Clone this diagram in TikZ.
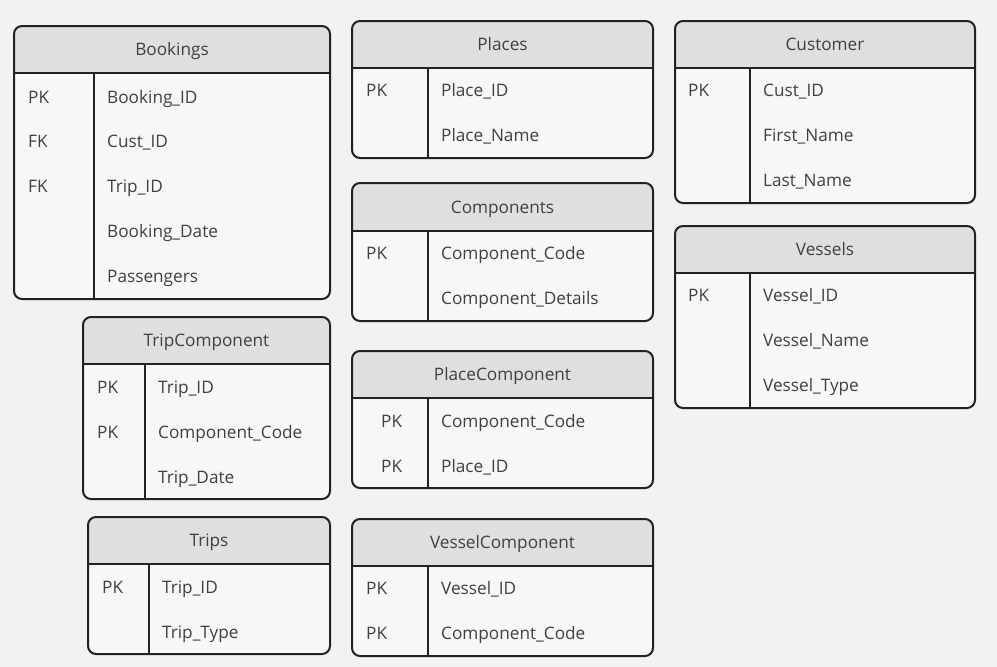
\documentclass[tikz,border=0pt]{standalone}
\usepackage{fontspec}
\setmainfont{Open Sans}
\usetikzlibrary{fit}
\definecolor{bgc}{HTML}{F2F2F2}
\definecolor{headc}{HTML}{DFDFDF}
\definecolor{bodyc}{HTML}{F7F7F7}
\definecolor{linec}{HTML}{222222}
\definecolor{txtc}{HTML}{404040}
\tikzset{
  tbl/.style={draw=linec, line width=2pt, rounded corners=8pt, inner sep=0pt},
  edge/.style={draw=linec, line width=2pt},
  ttl/.style={anchor=base, text=txtc, inner sep=0pt, font=\fontsize{17.2}{20}\selectfont},
  fld/.style={anchor=base west, text=txtc, inner sep=0pt, font=\fontsize{17.2}{20}\selectfont},
}
\newcommand\ertab[8]{%
  \fill[bodyc, rounded corners=8pt] (#2,#3) rectangle (#4,#5);
  \begin{scope}\clip (#2,#3) rectangle (#4,#6);
    \fill[headc, rounded corners=8pt] (#2,#3) rectangle (#4,#5);
  \end{scope}
  \node[tbl, fit={(#2,#3) (#4,#5)}] (#1) {};
  \draw[edge] (#2,#6) -- (#4,#6);
  \draw[edge] (#7,#6) -- (#7,#5);
  \node[ttl] (#1-title) at ({(#2+#4)/2},{(#3+#6)/2+6}) {#8};
}
\newcommand\erfield[4]{\node[fld] (#1) at (#2,{#3+6}) {#4};}
\begin{document}
\begin{tikzpicture}[x=1pt,y=-1pt]
\fill[bgc] (0,0) rectangle (997,667);
\useasboundingbox (0,0) rectangle (997,667);

% Bookings
\ertab{bk}{14}{26}{330}{299}{73}{94}{Bookings}
\erfield{bk-k1}{28}{97}{PK}
\erfield{bk-k2}{28}{141}{FK}
\erfield{bk-k3}{28}{186}{FK}
\erfield{bk-f1}{107}{97}{Booking\_ID}
\erfield{bk-f2}{107}{141}{Cust\_ID}
\erfield{bk-f3}{107}{186}{Trip\_ID}
\erfield{bk-f4}{107}{231}{Booking\_Date}
\erfield{bk-f5}{107}{276}{Passengers}

% Places
\ertab{pl}{352}{21}{653}{158}{68}{428}{Places}
\erfield{pl-k1}{366}{90}{PK}
\erfield{pl-f1}{441}{90}{Place\_ID}
\erfield{pl-f2}{441}{135}{Place\_Name}

% Components
\ertab{co}{352}{183}{653}{321}{231}{428}{Components}
\erfield{co-k1}{366}{253}{PK}
\erfield{co-f1}{441}{253}{Component\_Code}
\erfield{co-f2}{441}{298}{Component\_Details}

% Customer
\ertab{cu}{675}{21}{975}{203}{68}{750}{Customer}
\erfield{cu-k1}{688}{90}{PK}
\erfield{cu-f1}{763}{90}{Cust\_ID}
\erfield{cu-f2}{763}{135}{First\_Name}
\erfield{cu-f3}{763}{180}{Last\_Name}

% Vessels
\ertab{ve}{675}{226}{975}{408}{273}{750}{Vessels}
\erfield{ve-k1}{688}{295}{PK}
\erfield{ve-f1}{763}{295}{Vessel\_ID}
\erfield{ve-f2}{763}{340}{Vessel\_Name}
\erfield{ve-f3}{763}{385}{Vessel\_Type}

% TripComponent
\ertab{tc}{83}{317}{330}{499}{364}{145}{TripComponent}
\erfield{tc-k1}{97}{387}{PK}
\erfield{tc-k2}{97}{432}{PK}
\erfield{tc-f1}{158}{387}{Trip\_ID}
\erfield{tc-f2}{158}{432}{Component\_Code}
\erfield{tc-f3}{158}{477}{Trip\_Date}

% Trips
\ertab{tr}{88}{517}{330}{654}{564}{149}{Trips}
\erfield{tr-k1}{102}{587}{PK}
\erfield{tr-f1}{162}{587}{Trip\_ID}
\erfield{tr-f2}{162}{632}{Trip\_Type}

% PlaceComponent
\ertab{pc}{352}{351}{653}{488}{398}{428}{PlaceComponent}
\erfield{pc-k1}{381}{421}{PK}
\erfield{pc-k2}{381}{466}{PK}
\erfield{pc-f1}{441}{421}{Component\_Code}
\erfield{pc-f2}{441}{466}{Place\_ID}

% VesselComponent
\ertab{vc}{352}{519}{653}{656}{566}{428}{VesselComponent}
\erfield{vc-k1}{366}{588}{PK}
\erfield{vc-k2}{366}{633}{PK}
\erfield{vc-f1}{441}{588}{Vessel\_ID}
\erfield{vc-f2}{441}{633}{Component\_Code}
\end{tikzpicture}
\end{document}
